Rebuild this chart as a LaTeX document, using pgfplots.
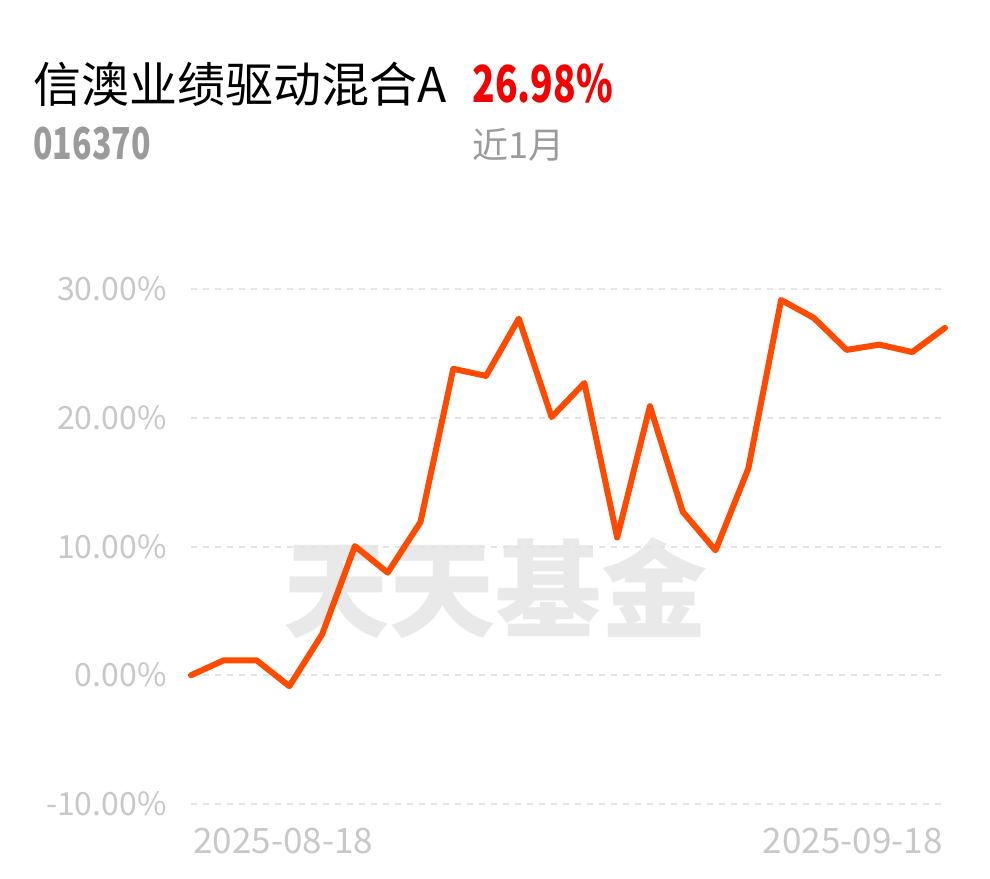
\documentclass[border=0pt]{standalone}
\usepackage{fontspec}
\setmainfont{Noto Sans CJK SC}
\usepackage{pgfplots}
\pgfplotsset{compat=1.18}
\definecolor{lineor}{RGB}{255,75,0}
\definecolor{tickgray}{RGB}{200,200,200}
\definecolor{gridgray}{RGB}{228,228,228}
\definecolor{subgray}{RGB}{155,155,155}
\definecolor{wmgray}{RGB}{233,233,233}
\definecolor{upred}{RGB}{245,0,0}
\begin{document}
\begin{tikzpicture}
\useasboundingbox (0,0) rectangle (495pt,439pt);
\fill[white] (0,0) rectangle (495pt,439pt);
% header
\node[anchor=base west, inner sep=0pt] at (16.5pt,387.5pt) {\fontsize{24pt}{28pt}\selectfont 信澳业绩驱动混合A};
\node[anchor=base west, inner sep=0pt, text=upred] at (236pt,387.5pt) {\scalebox{0.73}[1]{\fontsize{25.5pt}{30pt}\selectfont\bfseries 26.98\%}};
\node[anchor=base west, inner sep=0pt, text=subgray] at (16.5pt,359pt) {\scalebox{0.73}[1]{\fontsize{22pt}{26pt}\selectfont\bfseries 016370}};
\node[anchor=base west, inner sep=0pt, text=subgray] at (236pt,359.5pt) {\fontsize{18pt}{22pt}\selectfont 近1月};
% watermark
\node[inner sep=0pt, text=wmgray] at (247.5pt,145pt) {\fontsize{53pt}{60pt}\selectfont\bfseries 天天基金};
\begin{axis}[
  at={(95.5pt,37pt)}, anchor=south west,
  scale only axis, width=377pt, height=257.5pt,
  xmin=0, xmax=23, ymin=-10, ymax=30,
  clip=false,
  axis line style={draw=none},
  xtick=\empty,
  ytick={-10,0,10,20,30},
  yticklabels={-10.00\%,0.00\%,10.00\%,20.00\%,30.00\%},
  major tick length=0pt,
  yticklabel style={anchor=east, inner sep=0pt, xshift=-12pt, text=tickgray, font=\fontsize{16pt}{19pt}\selectfont},
  ymajorgrids,
  major grid style={draw=gridgray, line width=1pt, dash pattern=on 3pt off 3pt},
]
\addplot[lineor, line width=3pt, line join=round, line cap=round, mark=none] coordinates {
(0,0.00) (1,1.16) (2,1.16) (3,-0.85) (4,3.18) (5,10.03) (6,7.97) (7,11.90)
(8,23.80) (9,23.25) (10,27.70) (11,20.05) (12,22.70) (13,10.70) (14,20.90)
(15,12.70) (16,9.70) (17,16.05) (18,29.15) (19,27.75) (20,25.27) (21,25.68)
(22,25.10) (23,26.98)
};
\node[anchor=west, inner sep=0pt, text=tickgray, font=\fontsize{17.5pt}{20pt}\selectfont, yshift=-18.5pt, xshift=1pt] at (axis cs:0,-10) {2025-08-18};
\node[anchor=east, inner sep=0pt, text=tickgray, font=\fontsize{17.5pt}{20pt}\selectfont, yshift=-18.5pt, xshift=-1pt] at (axis cs:23,-10) {2025-09-18};
\end{axis}
\end{tikzpicture}
\end{document}
